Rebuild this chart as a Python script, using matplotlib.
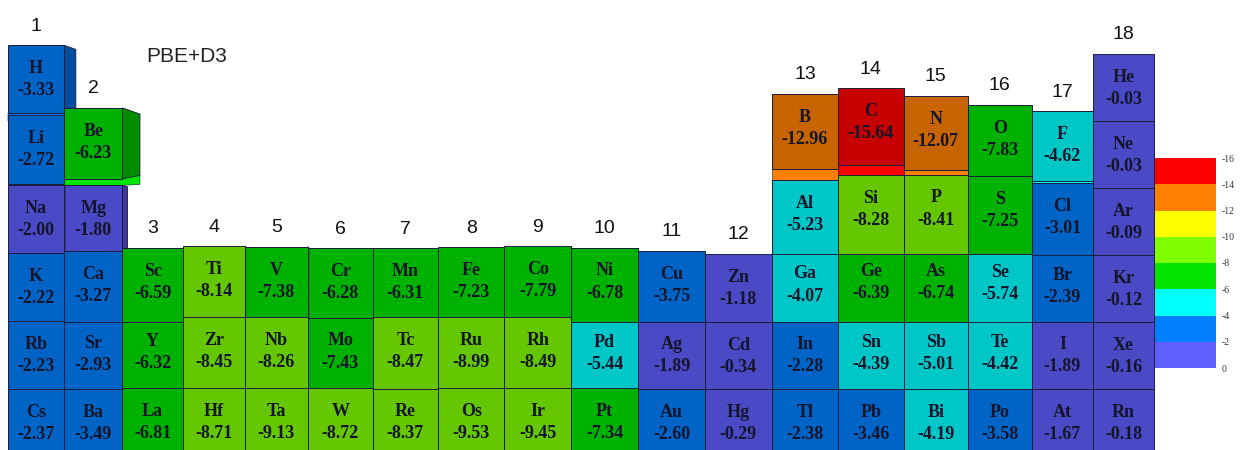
import numpy as np
import matplotlib.pyplot as plt
from matplotlib.patches import Polygon
from matplotlib.colors import ListedColormap, BoundaryNorm, to_rgb
from matplotlib.cm import ScalarMappable

# adsorption energies per element (PBE+D3)
symbols = ['H', 'He',
           'Li', 'Be', 'B', 'C', 'N', 'O', 'F', 'Ne',
           'Na', 'Mg', 'Al', 'Si', 'P', 'S', 'Cl', 'Ar',
           'K', 'Ca', 'Sc', 'Ti', 'V', 'Cr', 'Mn', 'Fe', 'Co', 'Ni', 'Cu', 'Zn',
           'Ga', 'Ge', 'As', 'Se', 'Br', 'Kr',
           'Rb', 'Sr', 'Y', 'Zr', 'Nb', 'Mo', 'Tc', 'Ru', 'Rh', 'Pd', 'Ag', 'Cd',
           'In', 'Sn', 'Sb', 'Te', 'I', 'Xe',
           'Cs', 'Ba', 'La', 'Hf', 'Ta', 'W', 'Re', 'Os', 'Ir', 'Pt', 'Au', 'Hg',
           'Tl', 'Pb', 'Bi', 'Po', 'At', 'Rn']
groups = [1, 18,
          1, 2, 13, 14, 15, 16, 17, 18,
          1, 2, 13, 14, 15, 16, 17, 18,
          1, 2, 3, 4, 5, 6, 7, 8, 9, 10, 11, 12, 13, 14, 15, 16, 17, 18,
          1, 2, 3, 4, 5, 6, 7, 8, 9, 10, 11, 12, 13, 14, 15, 16, 17, 18,
          1, 2, 3, 4, 5, 6, 7, 8, 9, 10, 11, 12, 13, 14, 15, 16, 17, 18]
periods = [1, 1] + [2] * 8 + [3] * 8 + [4] * 18 + [5] * 18 + [6] * 18
energies = [-3.33, -0.03,
            -2.72, -6.23, -12.96, -15.64, -12.07, -7.83, -4.62, -0.03,
            -2.00, -1.80, -5.23, -8.28, -8.41, -7.25, -3.01, -0.09,
            -2.22, -3.27, -6.59, -8.14, -7.38, -6.28, -6.31, -7.23, -7.79, -6.78,
            -3.75, -1.18, -4.07, -6.39, -6.74, -5.74, -2.39, -0.12,
            -2.23, -2.93, -6.32, -8.45, -8.26, -7.43, -8.47, -8.99, -8.49, -5.44,
            -1.89, -0.34, -2.28, -4.39, -5.01, -4.42, -1.89, -0.16,
            -2.37, -3.49, -6.81, -8.71, -9.13, -8.72, -8.37, -9.53, -9.45, -7.34,
            -2.60, -0.29, -2.38, -3.46, -4.19, -3.58, -1.67, -0.18]

# discrete colour scale, from -16 up to 0
levels = [-16, -14, -12, -10, -8, -6, -4, -2, 0]
level_colors = ['#ff0000', '#ff8000', '#ffff00', '#80ff00',
                '#00e400', '#00ffff', '#0080ff', '#5f5fff']
cmap = ListedColormap(level_colors)
norm = BoundaryNorm(levels, cmap.N)

# canvas is laid out in pixels; columns shrink away from the camera
W_PX, H_PX = 1243, 450
LEFT_PX, TOP_PX, ROW_PX = 8.0, 54.0, 67.0
col_w = np.array([67 - 0.12 * (g - 10.5) ** 2 for g in range(1, 19)])
col_left = LEFT_PX + np.concatenate([[0], np.cumsum(col_w)[:-1]])


def shade(rgb, f):
    return tuple(min(1.0, c * f) for c in rgb)


fig = plt.figure(figsize=(W_PX / 100, H_PX / 100), dpi=100)
ax = fig.add_axes([0, 0, 1, 1])
ax.set_xlim(0, W_PX)
ax.set_ylim(H_PX, 0)
ax.axis('off')

lookup = {(g, p): abs(v) for g, p, v in zip(groups, periods, energies)}
edge = '#1c1c3a'
tops = {}

# taller bars last so they sit in front
order = np.argsort(np.abs(energies), kind='stable')
for i in order:
    sym, g, p, v = symbols[i], groups[i], periods[i], energies[i]
    mag = abs(v)
    base = to_rgb(cmap(norm(v)))
    rise = max(0.0, 2.6 - 0.5 * (p - 1)) * mag
    x0 = col_left[g - 1]
    x1 = x0 + col_w[g - 1]
    y_floor = TOP_PX + p * ROW_PX          # bottom of the grid cell
    yt = y_floor - ROW_PX - rise
    # bottom face seen from below, only noticeable on the upper rows
    s = rise * max(0.0, 0.9 - 0.2 * (p - 1) ** 2)
    yb = y_floor - s
    tops[g] = min(tops.get(g, 1e9), yt)

    # side face where the bar stands above its right-hand neighbour
    diff = mag - lookup.get((g + 1, p), 0.0)
    w = 3.5 * diff * max(0.0, (6 - g) / 5) if diff > 0 else 0.0

    if s > 0.5:
        ax.add_patch(Polygon([(x0, yb), (x1 + w, yb - 0.2 * w),
                              (x1 + w, y_floor - 0.2 * w), (x0, y_floor)],
                             closed=True, facecolor=base, edgecolor=edge,
                             lw=0.4, zorder=1.5))
    if w > 0:
        ax.add_patch(Polygon([(x1, yt), (x1 + w, yt + 0.35 * w),
                              (x1 + w, yb - 0.2 * w), (x1, yb)],
                             closed=True, facecolor=shade(base, 0.62),
                             edgecolor=edge, lw=0.6, zorder=2))
    ax.add_patch(Polygon([(x0, yt), (x1, yt), (x1, yb), (x0, yb)],
                         closed=True, facecolor=shade(base, 0.78),
                         edgecolor=edge, lw=0.7, zorder=2))

    xc = (x0 + x1) / 2
    ax.text(xc, yt + 0.35 * ROW_PX, sym, ha='center', va='center',
            fontsize=13, fontweight='bold', family='Liberation Serif',
            color='#14142a', zorder=10)
    ax.text(xc, yt + 0.68 * ROW_PX, f'{v:.2f}', ha='center', va='center',
            fontsize=13, fontweight='bold', family='Liberation Serif',
            color='#14142a', zorder=10)

# group numbers above the highest bar of each column
for g in range(1, 19):
    xc = col_left[g - 1] + col_w[g - 1] / 2
    ax.text(xc, tops[g] - 19, str(g), ha='center', va='center',
            fontsize=14, family='Liberation Sans', color='#111111')

ax.text(187, 56, 'PBE+D3', ha='center', va='center', fontsize=15,
        family='Liberation Sans', color='#222222')

# colour bar
cax = fig.add_axes([1155 / W_PX, (H_PX - 368) / H_PX, 61 / W_PX, 210 / H_PX])
cb = fig.colorbar(ScalarMappable(norm=norm, cmap=cmap), cax=cax,
                  ticks=levels, spacing='uniform')
cax.invert_yaxis()
cb.outline.set_visible(False)
cax.tick_params(length=0, pad=4, labelsize=7)
cax.set_yticklabels([str(l) for l in levels], family='Liberation Serif',
                    color='#333333')

fig.savefig('out.png', dpi=100)
